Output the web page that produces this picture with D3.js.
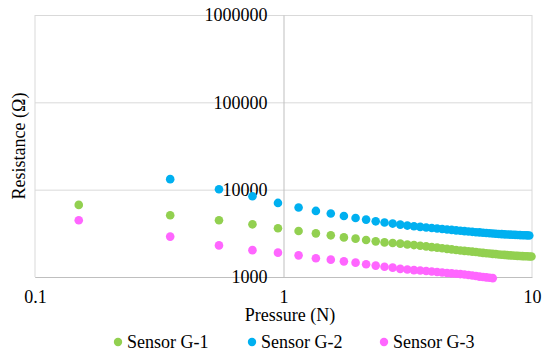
<!DOCTYPE html>
<html>
<head>
<meta charset="utf-8">
<script src="https://cdn.jsdelivr.net/npm/d3@7"></script>
<style>
    body { margin: 0; background: white; }
</style>
</head>
<body>
<div id="chart"></div>
<script>
// 1. SETUP
const width = 542;
const height = 351;
const plot = { left: 35, right: 532, top: 15, bottom: 277 };
const serif = "'Liberation Serif'";

// --- DATA ---
const pressure = [
    0.15, 0.35, 0.55, 0.75, 0.95, 1.15, 1.35, 1.55, 1.75, 1.95,
    2.15, 2.35, 2.55, 2.75, 2.95, 3.15, 3.35, 3.55, 3.75, 3.95,
    4.15, 4.35, 4.55, 4.75, 4.95, 5.15, 5.35, 5.55, 5.75, 5.95,
    6.15, 6.35, 6.55, 6.75, 6.95, 7.15, 7.35, 7.55, 7.75, 7.95,
    8.15, 8.35, 8.55, 8.75, 8.95, 9.15, 9.35, 9.55, 9.75, 9.95
];

const sensorG1 = [
    6690, 5090, 4460, 4010, 3610, 3360, 3160, 3000, 2840, 2750,
    2650, 2560, 2490, 2450, 2410, 2360, 2320, 2280, 2240, 2200,
    2170, 2130, 2100, 2070, 2040, 2010, 1990, 1970, 1950, 1930,
    1910, 1890, 1870, 1860, 1840, 1830, 1810, 1800, 1790, 1780,
    1770, 1760, 1750, 1745, 1740, 1735, 1730, 1725, 1720, 1715
];

const sensorG2 = [
    null, 13200, 10100, 8420, 7050, 6240, 5710, 5330, 5000, 4740,
    4540, 4340, 4200, 4090, 3980, 3880, 3810, 3750, 3690, 3640,
    3590, 3540, 3500, 3460, 3420, 3380, 3350, 3320, 3290, 3260,
    3240, 3210, 3190, 3170, 3150, 3130, 3110, 3100, 3080, 3070,
    3060, 3050, 3040, 3030, 3020, 3010, 3005, 3000, 2990, null
];

const sensorG3 = [
    4460, 2900, 2300, 2030, 1900, 1770, 1640, 1580, 1510, 1460,
    1400, 1350, 1310, 1280, 1240, 1220, 1200, 1185, 1170, 1155,
    1140, 1125, 1110, 1100, 1090, 1080, 1070, 1055, 1040, 1025,
    1010, 1000, 990, 980, 970, null, null, null, null, null,
    null, null, null, null, null, null, null, null, null, null
];

const seriesNames = ["Sensor G-1", "Sensor G-2", "Sensor G-3"];
const seriesColors = ["#92D050", "#00B0F0", "#FF66FF"];
const xTicks = [0.1, 1, 10];
const yTicks = [1000, 10000, 100000, 1000000];

const svg = d3.select("#chart")
    .append("svg")
    .attr("width", width)
    .attr("height", height);

// --- SCALES ---
const x = d3.scaleLog()
    .domain([0.1, 10])
    .range([plot.left, plot.right]);

const y = d3.scaleLog()
    .domain([1000, 1000000])
    .range([plot.bottom, plot.top]);

// --- GRID LINES (horizontal, one per decade) ---
svg.append("g")
    .attr("transform", `translate(${plot.left}, 0)`)
    .call(d3.axisRight(y)
        .tickValues(yTicks)
        .tickSize(plot.right - plot.left)
        .tickFormat(""))
    .call(g => g.select(".domain").remove())
    .selectAll("line")
    .attr("stroke", "#d9d9d9");

// plot area side borders
svg.append("line")
    .attr("x1", plot.left).attr("x2", plot.left)
    .attr("y1", plot.top).attr("y2", plot.bottom)
    .attr("stroke", "#d9d9d9");
svg.append("line")
    .attr("x1", plot.right).attr("x2", plot.right)
    .attr("y1", plot.top).attr("y2", plot.bottom)
    .attr("stroke", "#d9d9d9");

// --- X AXIS ---
svg.append("g")
    .attr("transform", `translate(0, ${plot.bottom})`)
    .call(d3.axisBottom(x)
        .tickValues(xTicks)
        .tickSize(0)
        .tickPadding(13)
        .tickFormat(d => d))
    .call(g => g.select(".domain").attr("stroke", "#bfbfbf"))
    .selectAll("text")
    .style("font-family", serif)
    .style("font-size", "18px")
    .attr("fill", "#000");

// --- Y AXIS (crosses at x = 1) ---
svg.append("g")
    .attr("transform", `translate(${x(1)}, 0)`)
    .call(d3.axisLeft(y)
        .tickValues(yTicks)
        .tickSize(0)
        .tickPadding(16)
        .tickFormat(d3.format("d")))
    .call(g => g.select(".domain").attr("stroke", "#bfbfbf"))
    .selectAll("text")
    .style("font-family", serif)
    .style("font-size", "18px")
    .attr("fill", "#000");

// --- AXIS TITLES ---
svg.append("text")
    .attr("x", 290)
    .attr("y", 321)
    .attr("text-anchor", "middle")
    .style("font-family", serif)
    .style("font-size", "18px")
    .text("Pressure (N)");

svg.append("text")
    .attr("transform", `translate(25, ${(plot.top + plot.bottom) / 2}) rotate(-90)`)
    .attr("text-anchor", "middle")
    .style("font-family", serif)
    .style("font-size", "18px")
    .text("Resistance (Ω)");

// --- DRAW POINTS ---
const allSeries = [sensorG1, sensorG2, sensorG3];

allSeries.forEach((values, i) => {
    const pts = pressure
        .map((p, j) => ({ p: p, v: values[j] }))
        .filter(d => d.v != null);

    svg.append("g")
        .selectAll("circle")
        .data(pts)
        .join("circle")
        .attr("cx", d => x(d.p))
        .attr("cy", d => y(d.v))
        .attr("r", 4.3)
        .attr("fill", seriesColors[i]);
});

// --- LEGEND ---
const legendX = [118, 252, 384];
const legend = svg.append("g")
    .selectAll("g")
    .data(seriesNames)
    .join("g")
    .attr("transform", (d, i) => `translate(${legendX[i]}, 342)`);

legend.append("circle")
    .attr("r", 4.2)
    .attr("fill", (d, i) => seriesColors[i]);

legend.append("text")
    .attr("x", 9)
    .attr("y", 5.5)
    .style("font-family", serif)
    .style("font-size", "18px")
    .text(d => d);
</script>
</body>
</html>
